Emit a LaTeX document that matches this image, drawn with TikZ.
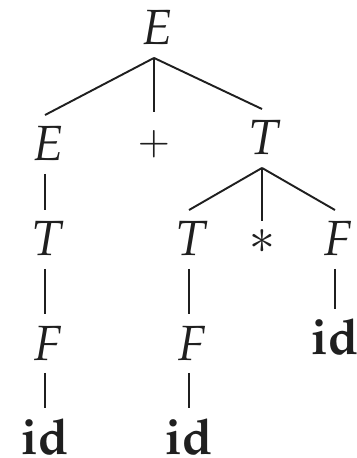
\documentclass[tikz,border=0pt]{standalone}
\usepackage[T1]{fontenc}
\usepackage{mathpazo}
\begin{document}
\begin{tikzpicture}[x=0.2083pt,y=-0.2083pt,
  sym/.style={anchor=base,inner xsep=0pt,inner ysep=2.5pt,text height=6.875pt,text depth=0pt,font=\fontsize{10.3}{12}\selectfont,text=black!88},
  ital/.style={sym,execute at begin node={\hspace{1.2pt}}},
  edge/.style={draw=black!88,line width=0.4pt}]
\useasboundingbox (0,0) rectangle (357,458);
% level 0
\node[ital] (r) at (154,45) {$E$};
% level 1
\node[ital] (e1) at (45,161) {$E$};
\node[sym,text height=6.25pt] (plus) at (154,155) {\scalebox{0.8}{$+$}};
\node[ital] (t1) at (262,155) {$T$};
% level 2
\node[ital] (t2) at (45,256) {$T$};
\node[ital] (t3) at (189,256) {$T$};
\node[sym,text height=4.2pt] (star) at (262,254) {$*$};
\node[ital] (f1) at (335,256) {$F$};
% level 3
\node[ital] (f2) at (45,360) {$F$};
\node[ital] (f3) at (189,360) {$F$};
\node[sym] (id1) at (335,355) {$\mathbf{id}$};
% level 4
\node[sym] (id2) at (45,454) {$\mathbf{id}$};
\node[sym] (id3) at (189,454) {$\mathbf{id}$};
% edges
\draw[edge] (r.south) -- (e1.north);
\draw[edge] (r.south) -- (plus.north);
\draw[edge] (r.south) -- (t1.north);
\draw[edge] (e1.south) -- (t2.north);
\draw[edge] (t1.south) -- (t3.north);
\draw[edge] (t1.south) -- (star.north);
\draw[edge] (t1.south) -- (f1.north);
\draw[edge] (t2.south) -- (f2.north);
\draw[edge] (t3.south) -- (f3.north);
\draw[edge] (f1.south) -- (id1.north);
\draw[edge] (f2.south) -- (id2.north);
\draw[edge] (f3.south) -- (id3.north);
\end{tikzpicture}
\end{document}
